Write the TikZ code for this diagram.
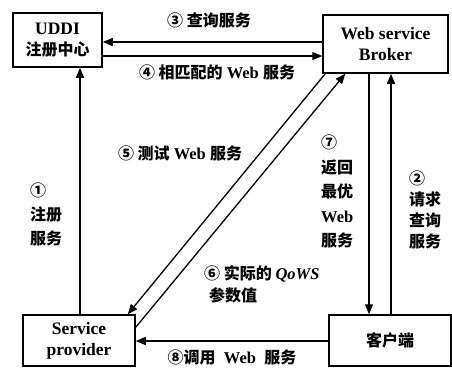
\documentclass[tikz,border=0pt]{standalone}
\usepackage{fontspec}
\setmainfont{Liberation Serif}
\newfontfamily\cjk{Noto Sans CJK SC}
\usetikzlibrary{arrows.meta,calc}
\tikzset{
  box/.style={draw, line width=1.5pt, inner sep=0pt, align=center,
    font=\bfseries\fontsize{17.5}{21}\selectfont},
  arr/.style={line width=1.3pt, -{Triangle[length=10pt,width=8pt]}},
  lbl/.style={inner sep=0pt, align=left, font=\bfseries\fontsize{16.5}{22}\selectfont},
  stack/.style={lbl, anchor=north west, font=\cjk\bfseries\fontsize{16}{24}\selectfont}
}
\begin{document}
\begin{tikzpicture}[x=1pt,y=-1pt]
\useasboundingbox[fill=white] (0,0) rectangle (452,368);
% boxes
\node[box, minimum width=89pt, minimum height=54pt] (uddi) at (57.5,40) {UDDI\\{\cjk\fontsize{16}{21}\selectfont 注册中心}};
\node[box, minimum width=125pt, minimum height=58pt] (broker) at (385.5,44) {Web service\\Broker};
\node[box, minimum width=112pt, minimum height=51pt] (prov) at (79,340.5) {Service\\provider};
\node[box, minimum width=122pt, minimum height=51pt] (client) at (390,340.5) {{\cjk\fontsize{16}{21}\selectfont 客户端}};
% connectors
\draw[arr] ($(broker.west)+(0,-2)$) -- ($(uddi.east)+(0,2)$);
\draw[arr] ($(uddi.east)+(0,16)$) -- ($(broker.west)+(0,12)$);
\draw[arr] ($(prov.north)+(1,0)$) -- ($(uddi.south)+(22.5,0)$);
\draw[arr] ($(broker.south)+(-16.5,0)$) -- ($(client.north)+(-21,0)$);
\draw[arr] ($(client.north)+(1,0)$) -- ($(broker.south)+(5.5,0)$);
\draw[arr] ($(client.west)+(0,0.5)$) -- ($(prov.east)+(0,0.5)$);
\draw[arr] ($(broker.south west)+(3,0)$) -- ($(prov.north east)+(-8,0)$);
\draw[arr] ($(prov.north east)+(0,13)$) -- ($(broker.south west)+(23,0)$);
% labels
\node[lbl] (l3) at (209,20) {{\cjk\fontsize{16}{22}\selectfont ③ 查询服务}};
\node[lbl] (l4) at (217,72) {{\cjk\fontsize{16}{22}\selectfont ④ 相匹配的} Web {\cjk\fontsize{16}{22}\selectfont 服务}};
\node[lbl] (l5) at (180,153) {{\cjk\fontsize{16}{22}\selectfont ⑤ 测试} Web {\cjk\fontsize{16}{22}\selectfont 服务}};
\node[stack] (l1) at (30,183) {①\\注册\\服务};
\node[stack, font=\cjk\bfseries\fontsize{16}{24.5}\selectfont] (l7) at (321,135) {⑦\\返回\\最优\\{\rmfamily\fontsize{16.5}{24.5}\selectfont Web}\\服务};
\node[stack, font=\cjk\bfseries\fontsize{16}{21}\selectfont] (l2) at (409,171) {②\\请求\\查询\\服务};
\node[stack, font=\cjk\bfseries\fontsize{16}{22}\selectfont] (l6) at (204,265) {⑥ 实际的 {\rmfamily\itshape\fontsize{16.5}{22}\selectfont QoWS}\\\hspace{5pt}参数值};
\node[lbl] (l8) at (232,357) {{\cjk\fontsize{16}{22}\selectfont ⑧调用}\ \ Web\ \ {\cjk\fontsize{16}{22}\selectfont 服务}};
\end{tikzpicture}
\end{document}
